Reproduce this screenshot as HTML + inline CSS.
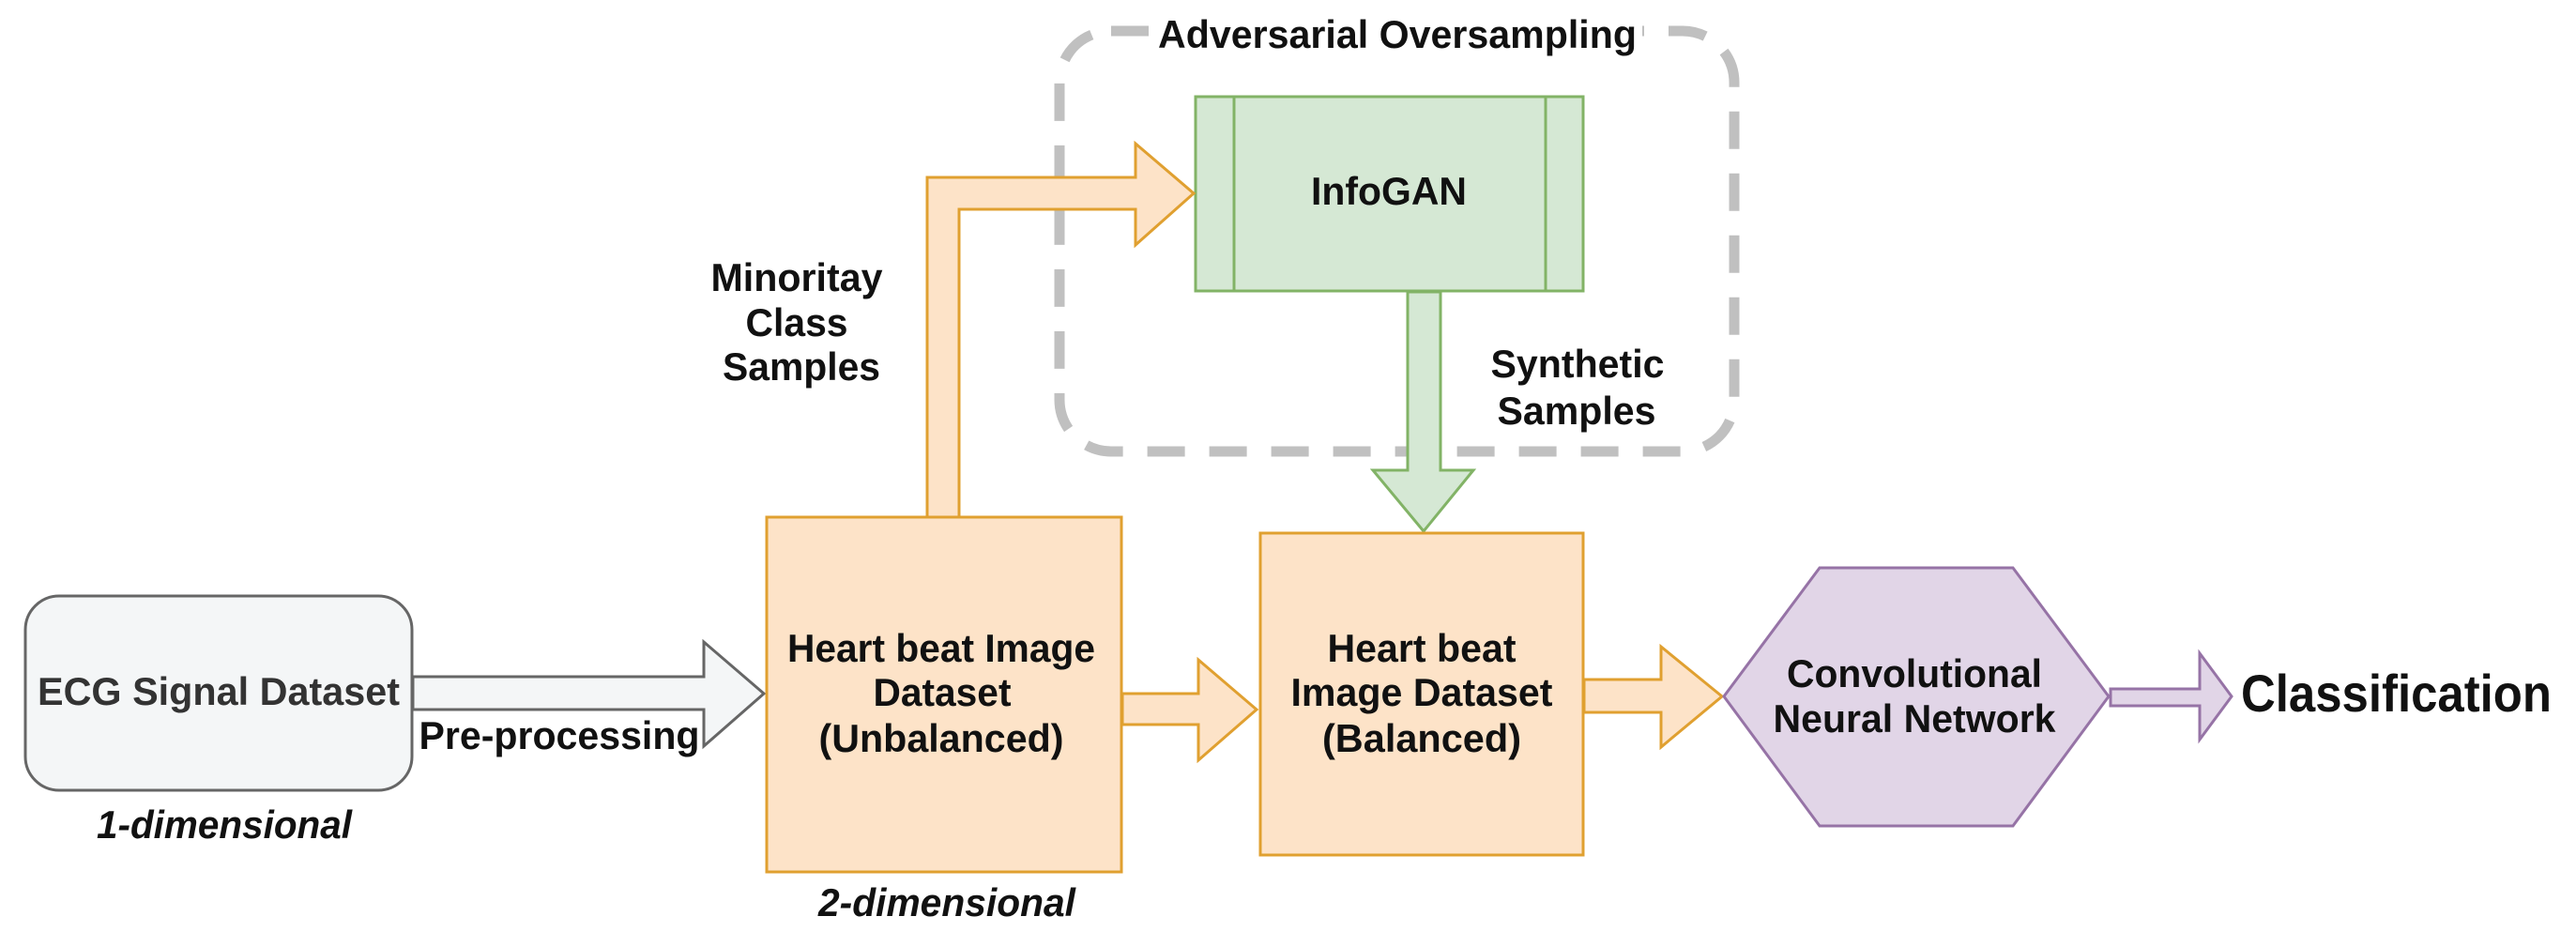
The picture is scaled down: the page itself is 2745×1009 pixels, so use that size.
<!DOCTYPE html>
<html><head><meta charset="utf-8"><style>
html,body{margin:0;padding:0;background:#fff;}
svg{display:block;}
text{font-family:"Liberation Sans",Arial,sans-serif;font-weight:bold;fill:#111;}
</style></head><body>
<svg width="2745" height="1009" viewBox="0 0 2745 1009" xmlns="http://www.w3.org/2000/svg">
<rect x="1129" y="33" width="719" height="448" rx="55" fill="none" stroke="#c0c0c0" stroke-width="11" stroke-dasharray="40 26"/>
<rect x="1230" y="12" width="520" height="50" fill="#fff"/>
<text x="1234" y="40" font-size="42" textLength="510" lengthAdjust="spacingAndGlyphs" dominant-baseline="middle">Adversarial Oversampling</text>

<rect x="1274" y="103" width="413" height="207" fill="#d5e8d4" stroke="#82b366" stroke-width="3"/>
<line x1="1315" y1="103" x2="1315" y2="310" stroke="#82b366" stroke-width="3"/>
<line x1="1647" y1="103" x2="1647" y2="310" stroke="#82b366" stroke-width="3"/>
<text x="1480" y="207" font-size="42" text-anchor="middle" dominant-baseline="middle" textLength="166" lengthAdjust="spacingAndGlyphs">InfoGAN</text>

<polygon points="1500,311 1535,311 1535,501 1570,501 1517,566 1463,501 1500,501" fill="#d5e8d4" stroke="#82b366" stroke-width="3"/>
<text x="1681" y="391" font-size="42" text-anchor="middle" dominant-baseline="middle" textLength="185" lengthAdjust="spacingAndGlyphs">Synthetic</text>
<text x="1680" y="441" font-size="42" text-anchor="middle" dominant-baseline="middle" textLength="169" lengthAdjust="spacingAndGlyphs">Samples</text>

<polygon points="988,551 988,189 1210,189 1210,153 1272,206 1210,261 1210,223 1022,223 1022,551" fill="#fde3c8" stroke="#e0a030" stroke-width="3"/>
<text x="849" y="299" font-size="42" text-anchor="middle" dominant-baseline="middle" textLength="183" lengthAdjust="spacingAndGlyphs">Minoritay</text>
<text x="849" y="347" font-size="42" text-anchor="middle" dominant-baseline="middle" textLength="109" lengthAdjust="spacingAndGlyphs">Class</text>
<text x="854" y="394" font-size="42" text-anchor="middle" dominant-baseline="middle" textLength="168" lengthAdjust="spacingAndGlyphs">Samples</text>

<rect x="27" y="635" width="412" height="207" rx="36" fill="#f4f6f7" stroke="#666" stroke-width="3"/>
<text x="233" y="740" font-size="42" text-anchor="middle" dominant-baseline="middle" textLength="386" lengthAdjust="spacingAndGlyphs" style="fill:#333">ECG Signal Dataset</text>
<text x="239" y="882" font-size="42" font-style="italic" text-anchor="middle" dominant-baseline="middle" textLength="272" lengthAdjust="spacingAndGlyphs">1-dimensional</text>

<polygon points="440,721 750,721 750,684 814,739 750,795 750,756 440,756" fill="#f4f6f7" stroke="#666" stroke-width="3"/>
<text x="596" y="787" font-size="42" text-anchor="middle" dominant-baseline="middle" textLength="299" lengthAdjust="spacingAndGlyphs">Pre-processing</text>

<rect x="817" y="551" width="378" height="378" fill="#fde3c8" stroke="#e0a030" stroke-width="3"/>
<text x="1003" y="694" font-size="42" text-anchor="middle" dominant-baseline="middle" textLength="328" lengthAdjust="spacingAndGlyphs">Heart beat Image</text>
<text x="1004" y="741" font-size="42" text-anchor="middle" dominant-baseline="middle" textLength="147" lengthAdjust="spacingAndGlyphs">Dataset</text>
<text x="1003" y="790" font-size="42" text-anchor="middle" dominant-baseline="middle" textLength="261" lengthAdjust="spacingAndGlyphs">(Unbalanced)</text>
<text x="1009" y="965" font-size="42" font-style="italic" text-anchor="middle" dominant-baseline="middle" textLength="274" lengthAdjust="spacingAndGlyphs">2-dimensional</text>

<polygon points="1196,739 1277,739 1277,703 1339,756 1277,810 1277,772 1196,772" fill="#fde3c8" stroke="#e0a030" stroke-width="3"/>

<rect x="1343" y="568" width="344" height="343" fill="#fde3c8" stroke="#e0a030" stroke-width="3"/>
<text x="1515" y="694" font-size="42" text-anchor="middle" dominant-baseline="middle" textLength="201" lengthAdjust="spacingAndGlyphs">Heart beat</text>
<text x="1515" y="741" font-size="42" text-anchor="middle" dominant-baseline="middle" textLength="279" lengthAdjust="spacingAndGlyphs">Image Dataset</text>
<text x="1515" y="790" font-size="42" text-anchor="middle" dominant-baseline="middle" textLength="212" lengthAdjust="spacingAndGlyphs">(Balanced)</text>

<polygon points="1688,724 1770,724 1770,689 1835,742 1770,796 1770,759 1688,759" fill="#fde3c8" stroke="#e0a030" stroke-width="3"/>

<polygon points="1939,605 2145,605 2247,742 2145,880 1939,880 1837,742" fill="#e1d5e7" stroke="#9673a6" stroke-width="3"/>
<text x="2040" y="721" font-size="42" text-anchor="middle" dominant-baseline="middle" textLength="272" lengthAdjust="spacingAndGlyphs">Convolutional</text>
<text x="2040" y="769" font-size="42" text-anchor="middle" dominant-baseline="middle" textLength="301" lengthAdjust="spacingAndGlyphs">Neural Network</text>

<polygon points="2249,734 2344,734 2344,696 2378,742 2344,788 2344,752 2249,752" fill="#e1d5e7" stroke="#9673a6" stroke-width="3"/>
<text x="2388" y="743" font-size="56" dominant-baseline="middle" textLength="331" lengthAdjust="spacingAndGlyphs">Classification</text>
</svg>
</body></html>
